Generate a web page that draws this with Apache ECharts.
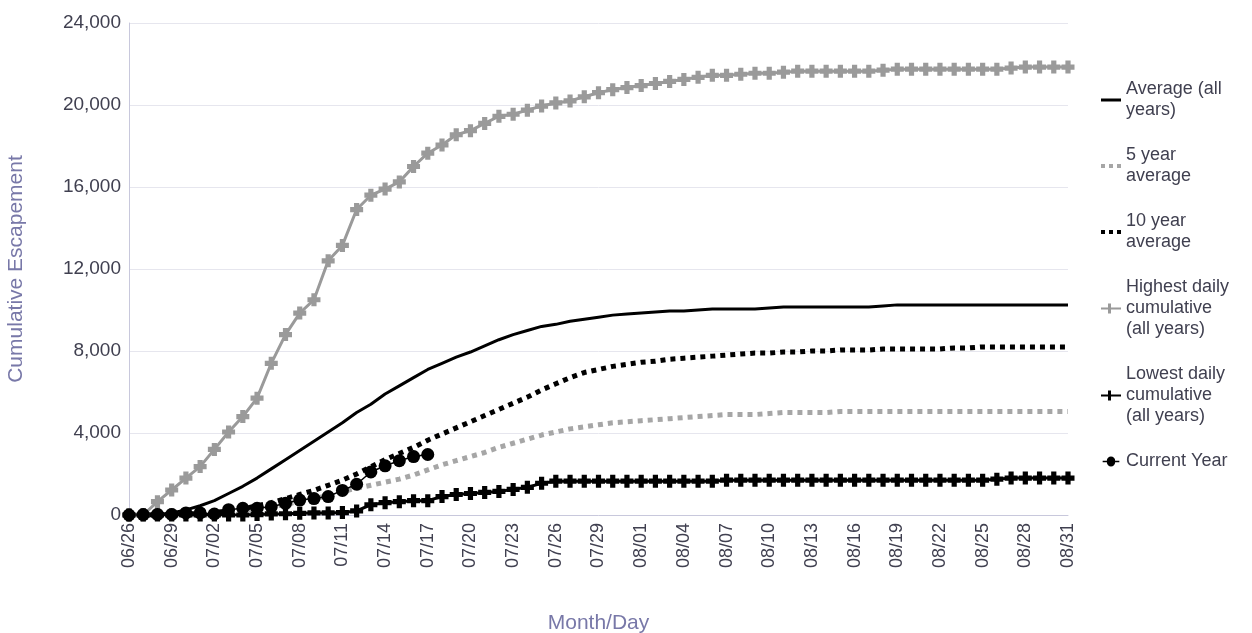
<!DOCTYPE html>
<html>
<head>
<meta charset="utf-8">
<script src="https://cdn.jsdelivr.net/npm/echarts@6/dist/echarts.min.js"></script>
<style>
  html, body { margin: 0; padding: 0; background: #fff; }
  #chart { width: 1252px; height: 633px; }
</style>
</head>
<body>
<div id="chart"></div>
<script>
// days 06/26 .. 08/31
const days = []
const start = new Date(2021, 5, 26)
for (let i = 0; i < 67; i++) {
  const d = new Date(start.getTime() + i * 86400000)
  days.push(String(d.getMonth() + 1).padStart(2, '0') + '/' + String(d.getDate()).padStart(2, '0'))
}

const avgAll = [0, 10, 30, 100, 250, 450, 700, 1050, 1400, 1800, 2250, 2700, 3150, 3600, 4050, 4500,
  5000, 5400, 5900, 6300, 6700, 7100, 7400, 7700, 7950, 8250, 8550, 8800, 9000, 9200, 9300, 9450,
  9550, 9650, 9750, 9800, 9850, 9900, 9950, 9950, 10000, 10050, 10050, 10050, 10050, 10100, 10150,
  10150, 10150, 10150, 10150, 10150, 10150, 10200, 10250, 10250, 10250, 10250, 10250, 10250, 10250,
  10250, 10250, 10250, 10250, 10250, 10250]

const avg5 = [0, 0, 10, 20, 40, 70, 110, 160, 230, 300, 400, 520, 650, 800, 950, 1150,
  1300, 1450, 1600, 1750, 1950, 2200, 2450, 2650, 2850, 3050, 3300, 3500, 3700, 3900, 4050, 4200,
  4300, 4400, 4500, 4550, 4600, 4650, 4700, 4750, 4800, 4850, 4900, 4900, 4900, 4950, 5000,
  5000, 5000, 5000, 5050, 5050, 5050, 5050, 5050, 5050, 5050, 5050, 5050, 5050, 5050,
  5050, 5050, 5050, 5050, 5050, 5050]

const avg10 = [0, 0, 10, 30, 50, 80, 130, 200, 300, 450, 600, 800, 1000, 1200, 1450, 1700,
  2000, 2350, 2700, 3000, 3300, 3650, 3950, 4250, 4550, 4850, 5150, 5450, 5750, 6100, 6400, 6700,
  6950, 7100, 7250, 7350, 7450, 7500, 7600, 7650, 7700, 7750, 7800, 7850, 7900, 7900, 7950,
  7950, 8000, 8000, 8050, 8050, 8050, 8100, 8100, 8100, 8100, 8100, 8150, 8150, 8200,
  8200, 8200, 8200, 8200, 8200, 8200]

const highest = [0, 0, 650, 1220, 1800, 2360, 3200, 4050, 4800, 5700, 7400, 8800, 9850, 10500, 12400,
  13150, 14900, 15600, 15900, 16250, 17000, 17650, 18050, 18550, 18750, 19100, 19450, 19550, 19750,
  19950, 20100, 20200, 20400, 20600, 20750, 20850, 20950, 21050, 21150, 21250, 21350, 21450, 21450,
  21500, 21550, 21550, 21600, 21650, 21650, 21650, 21650, 21650, 21650, 21700, 21750, 21750, 21750,
  21750, 21750, 21750, 21750, 21750, 21800, 21850, 21850, 21850, 21850]

const lowest = [0, 0, 0, 0, 0, 0, 0, 0, 0, 20, 50, 60, 80, 100, 100, 120,
  200, 500, 600, 650, 700, 700, 900, 1000, 1050, 1100, 1150, 1250, 1350, 1550, 1650, 1650,
  1650, 1650, 1650, 1650, 1650, 1650, 1650, 1650, 1650, 1650, 1700, 1700, 1700, 1700, 1700,
  1700, 1700, 1700, 1700, 1700, 1700, 1700, 1700, 1700, 1700, 1700, 1700, 1700, 1700,
  1750, 1800, 1800, 1800, 1800, 1800]

const current = [0, 20, 30, 30, 100, 100, 50, 260, 330, 330, 400, 570, 730, 800, 900, 1200,
  1500, 2100, 2400, 2650, 2850, 2950]

const yTicks = [0, 4000, 8000, 12000, 16000, 20000, 24000]

const plus = 'path://M3,0H7V3H10V7H7V10H3V7H0V3H3Z'
const font = 'Liberation Sans'

// legend icons
const iconLine = 'path://M0,4H20V7H0Z'
const iconDots = 'path://M0,3H4V7H0ZM8,3H12V7H8ZM16,3H20V7H16Z'
const iconPlus = 'path://M0,4.5H7V0.5H10V4.5H20V6.5H10V10.5H7V6.5H0Z'
const iconDot = 'path://M0,4.5H5A5,5 0 1 1 15,4.5H20V6.5H15A5,5 0 1 1 5,6.5H0Z'

const chart = echarts.init(document.getElementById('chart'))
chart.setOption({
  animation: false,
  textStyle: { fontFamily: font },
  grid: { left: 129, right: 184, top: 23, bottom: 118, outerBoundsMode: 'none' },
  legend: {
    orient: 'vertical',
    left: 1096,
    top: 74,
    itemGap: 24,
    itemWidth: 20,
    itemHeight: 10,
    textStyle: { fontSize: 18, color: '#404050', lineHeight: 21, fontFamily: font },
    data: [
      { name: 'Average (all years)', icon: iconLine },
      { name: '5 year average', icon: iconDots },
      { name: '10 year average', icon: iconDots },
      { name: 'Highest daily cumulative (all years)', icon: iconPlus },
      { name: 'Lowest daily cumulative (all years)', icon: iconPlus },
      { name: 'Current Year', icon: iconDot }
    ],
    formatter: name => ({
      'Average (all years)': 'Average (all\nyears)',
      '5 year average': '5 year\naverage',
      '10 year average': '10 year\naverage',
      'Highest daily cumulative (all years)': 'Highest daily\ncumulative\n(all years)',
      'Lowest daily cumulative (all years)': 'Lowest daily\ncumulative\n(all years)'
    }[name] || name)
  },
  xAxis: {
    type: 'category',
    data: days,
    boundaryGap: false,
    name: 'Month/Day',
    nameLocation: 'middle',
    nameGap: 98,
    nameTextStyle: { fontSize: 21, color: '#7878a8' },
    axisLine: { lineStyle: { color: '#c8c8dc' } },
    axisTick: { show: false },
    axisLabel: { rotate: 90, interval: 2, fontSize: 18, color: '#404050', margin: 8 },
    splitLine: { show: false }
  },
  yAxis: {
    type: 'value',
    min: 0,
    max: 24000,
    interval: 4000,
    name: 'Cumulative Escapement',
    nameLocation: 'middle',
    nameGap: 102,
    nameTextStyle: { fontSize: 21, color: '#7878a8' },
    axisLine: { show: true, lineStyle: { color: '#c8c8dc' } },
    axisLabel: {
      fontSize: 19, color: '#404050',
      formatter: v => yTicks.includes(v) ? v.toLocaleString('en-US') : ''
    },
    splitLine: { lineStyle: { color: '#e6e6ee' } }
  },
  series: [
    { name: 'Average (all years)', type: 'line', data: avgAll, symbol: 'none',
      lineStyle: { color: '#000', width: 3 }, itemStyle: { color: '#000' } },
    { name: '5 year average', type: 'line', data: avg5, symbol: 'none',
      lineStyle: { color: '#a6a6a6', width: 5, type: [5, 5] }, itemStyle: { color: '#a6a6a6' } },
    { name: '10 year average', type: 'line', data: avg10, symbol: 'none',
      lineStyle: { color: '#000', width: 5, type: [5, 5] }, itemStyle: { color: '#000' } },
    { name: 'Highest daily cumulative (all years)', type: 'line', data: highest, showAllSymbol: true,
      symbol: plus, symbolSize: 13, lineStyle: { color: '#9a9a9a', width: 3 }, itemStyle: { color: '#9a9a9a' } },
    { name: 'Lowest daily cumulative (all years)', type: 'line', data: lowest, showAllSymbol: true,
      symbol: plus, symbolSize: 13, lineStyle: { color: '#000', width: 3 }, itemStyle: { color: '#000' } },
    { name: 'Current Year', type: 'line', data: current, showAllSymbol: true,
      symbol: 'circle', symbolSize: 13, lineStyle: { color: '#000', width: 1.5 }, itemStyle: { color: '#000' } }
  ]
})
</script>
</body>
</html>
